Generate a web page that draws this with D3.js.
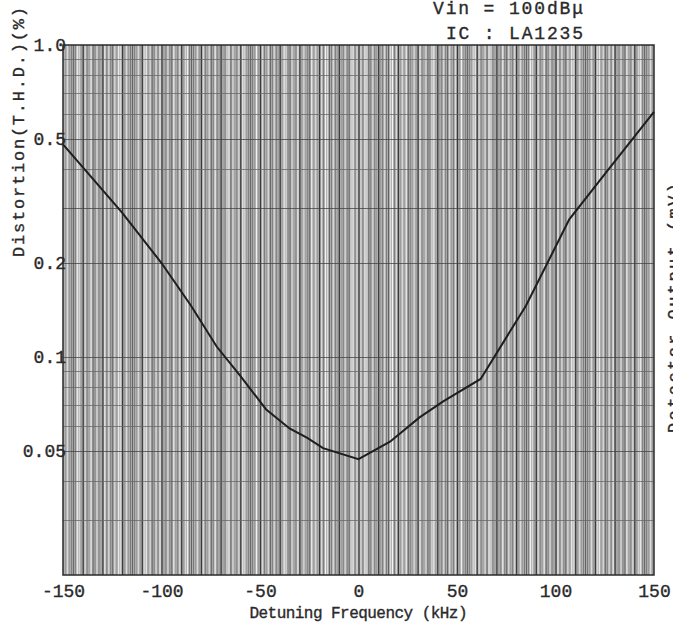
<!DOCTYPE html>
<html>
<head>
<meta charset="utf-8">
<script src="https://cdn.jsdelivr.net/npm/d3@7"></script>
<style>
  body { margin: 0; background: #fff; }
  text { font-family: "Liberation Mono", "DejaVu Sans Mono", monospace; fill: #2a2a2a; stroke: #2a2a2a; stroke-width: 0.35px; }
</style>
</head>
<body>
<div id="chart"></div>
<script>
// detuning frequency (kHz) vs distortion T.H.D. (%)
const freqs = [-150, -120, -100, -85, -72, -60, -47, -35, -26, -18, 0, 16, 31, 43, 62, 85, 107, 126, 150];
const thd = [0.48, 0.29, 0.2, 0.146, 0.108, 0.087, 0.068, 0.059, 0.055, 0.051, 0.047, 0.0535, 0.064, 0.072, 0.085, 0.146, 0.276, 0.393, 0.61];

const x_ticks = [-150, -100, -50, 0, 50, 100, 150];
const y_ticks = [1.0, 0.5, 0.2, 0.1, 0.05];
const y_tick_labels = ["1.0", "0.5", "0.2", "0.1", "0.05"];
const notes = ["Vin = 100dBμ", "IC : LA1235"];

const W = 673, H = 628;
const margin = { left: 63, right: 19, top: 45, bottom: 53 };

const svg = d3.select("#chart").append("svg")
    .attr("width", W)
    .attr("height", H);

const x = d3.scaleLinear().domain([-150, 150]).range([margin.left, W - margin.right]);
const y = d3.scaleLog().domain([0.02, 1]).range([H - margin.bottom, margin.top]);

// plot background
svg.append("rect")
    .attr("x", x(-150)).attr("y", y(1))
    .attr("width", x(150) - x(-150))
    .attr("height", y(0.02) - y(1))
    .attr("fill", "#b2b2b2");

// dense vertical grid (every 1 kHz), shade varies like the printed chart paper
const v_grid = d3.range(-149, 150, 1);
svg.append("g").selectAll("line")
    .data(v_grid)
    .join("line")
    .attr("x1", (d) => x(d) + 0.5).attr("x2", (d) => x(d) + 0.5)
    .attr("y1", y(1)).attr("y2", y(0.02))
    .attr("stroke", (d) => {
        if (d % 10 == 0) return "#3a3a3a";
        if (d % 5 == 0) return "#5e5e5e";
        if (Math.abs(d) % 7 == 3) return "#f4f4f4";
        if (Math.abs(d) % 3 == 1) return "#dcdcdc";
        if (Math.abs(d) % 2 == 0) return "#7a7a7a";
        return "#9a9a9a";
    })
    .attr("stroke-width", (d) => (d % 10 == 0 ? 1.3 : 1));

// horizontal log grid
const h_grid = [];
[0.01, 0.1].forEach((dec) => {
    for (let k = 1; k <= 9; k++) {
        const v = +(k * dec).toFixed(3);
        if (v > 0.02 && v < 1) h_grid.push(v);
    }
});
svg.append("g").selectAll("line")
    .data(h_grid)
    .join("line")
    .attr("x1", x(-150)).attr("x2", x(150))
    .attr("y1", (d) => Math.round(y(d)) + 0.5)
    .attr("y2", (d) => Math.round(y(d)) + 0.5)
    .attr("stroke", (d) => ([0.5, 0.2, 0.1, 0.05, 0.3].includes(d) ? "#404040" : "#666"))
    .attr("stroke-width", 1)
    .attr("stroke-opacity", 0.75);

// frame
svg.append("rect")
    .attr("x", x(-150)).attr("y", y(1))
    .attr("width", x(150) - x(-150))
    .attr("height", y(0.02) - y(1))
    .attr("fill", "none")
    .attr("stroke", "#2a2a2a")
    .attr("stroke-width", 1.5);

// curve
const line = d3.line()
    .x((d, i) => x(freqs[i]))
    .y((d) => y(d));
svg.append("path")
    .datum(thd)
    .attr("d", line)
    .attr("fill", "none")
    .attr("stroke", "#1e1e1e")
    .attr("stroke-width", 2);

// axes
const x_axis = svg.append("g")
    .attr("transform", `translate(0,${H - margin.bottom})`)
    .call(d3.axisBottom(x).tickValues(x_ticks).tickSize(0).tickPadding(9).tickFormat((d) => String(d)));
x_axis.select(".domain").remove();
x_axis.selectAll("text")
    .attr("font-size", 18)
    .attr("font-family", "Liberation Mono, monospace")
    .attr("fill", "#2a2a2a");

const y_axis = svg.append("g")
    .attr("transform", `translate(${margin.left + 3},0)`)
    .call(d3.axisLeft(y).tickValues(y_ticks).tickSize(0).tickPadding(0)
        .tickFormat((d, i) => y_tick_labels[i]));
y_axis.select(".domain").remove();
y_axis.selectAll("text")
    .attr("font-size", 18)
    .attr("font-family", "Liberation Mono, monospace")
    .attr("fill", "#2a2a2a");

// axis titles
svg.append("text")
    .attr("x", (x(-150) + x(150)) / 2)
    .attr("y", 618)
    .attr("text-anchor", "middle")
    .attr("font-size", 16)
    .attr("textLength", 218)
    .text("Detuning Frequency (kHz)");

svg.append("text")
    .attr("transform", "translate(24,257) rotate(-90)")
    .attr("font-size", 17)
    .attr("textLength", 250)
    .text("Distortion(T.H.D.)(%)");

svg.append("text")
    .attr("transform", "translate(679,433) rotate(-90)")
    .attr("font-size", 17)
    .attr("textLength", 250)
    .text("Detector Output (mV)");

// condition notes
svg.selectAll(".note")
    .data(notes)
    .join("text")
    .attr("class", "note")
    .attr("x", (d, i) => (i == 0 ? 433 : 446))
    .attr("y", (d, i) => 14 + i * 25)
    .attr("font-size", 18)
    .attr("textLength", (d, i) => (i == 0 ? 150 : 137))
    .text((d) => d);
</script>
</body>
</html>
